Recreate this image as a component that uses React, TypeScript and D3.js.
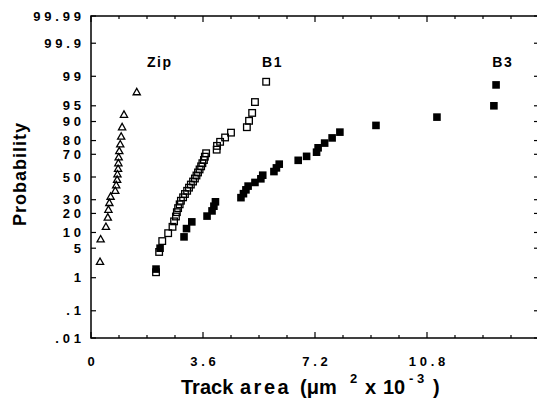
import React from 'react';
import * as d3 from 'd3';

// cumulative probability (%) vs. track area (um^2 x 10^-3)
const zipArea = [0.29, 0.31, 0.48, 0.54, 0.56, 0.59, 0.63, 0.78, 0.81, 0.84, 0.85, 0.87, 0.88, 0.89, 0.91, 0.94, 0.97, 1.0, 1.06, 1.47];
const zipProb = [2.5, 7.5, 12.5, 17.5, 22.5, 27.5, 32.5, 37.5, 42.5, 47.5, 52.5, 57.5, 62.5, 67.5, 72.5, 77.5, 82.5, 87.5, 92.5, 97.5];

const b1Area = [2.09, 2.19, 2.29, 2.48, 2.62, 2.67, 2.73, 2.76, 2.8, 2.85, 2.89, 2.96, 3.02, 3.09, 3.15, 3.21, 3.28, 3.34, 3.39, 3.44, 3.49, 3.54, 3.58, 3.63, 3.66, 3.7, 4.04, 4.05, 4.15, 4.31, 4.5, 5.01, 5.08, 5.18, 5.27, 5.63];
const b1Prob = [1.39, 4.17, 6.94, 9.72, 12.5, 15.28, 18.06, 20.83, 23.61, 26.39, 29.17, 31.94, 34.72, 37.5, 40.28, 43.06, 45.83, 48.61, 51.39, 54.17, 56.94, 59.72, 62.5, 65.28, 68.06, 70.83, 73.61, 76.39, 79.17, 81.94, 84.72, 87.5, 90.28, 93.06, 95.83, 98.61];

const b3Area = [2.09, 2.22, 2.99, 3.07, 3.24, 3.73, 3.89, 3.95, 4.0, 4.82, 4.9, 4.98, 5.05, 5.27, 5.46, 5.52, 5.88, 5.96, 6.05, 6.66, 6.93, 7.25, 7.3, 7.51, 7.75, 8.0, 9.16, 11.12, 12.95, 13.02];
const b3Prob = [1.67, 5, 8.33, 11.67, 15, 18.33, 21.67, 25, 28.33, 31.67, 35, 38.33, 41.67, 45, 48.33, 51.67, 55, 58.33, 61.67, 65, 68.33, 71.67, 75, 78.33, 81.67, 85, 88.33, 91.67, 95, 98.33];

const probTicks = [0.01, 0.1, 1, 5, 10, 20, 30, 50, 70, 80, 90, 95, 99, 99.9, 99.99];
const probLabels = ['.01', '.1', '1', '5', '10', '20', '30', '50', '70', '80', '90', '95', '99', '99.9', '99.99'];
const areaTicks = [0, 3.6, 7.2, 10.8];
const areaLabels = ['0', '3.6', '7.2', '10.8'];

const seriesLabels = [
  { name: 'Zip', x: 1.8 },
  { name: 'B1', x: 5.5 },
  { name: 'B3', x: 12.9 },
];

// inverse normal cdf (Acklam)
const probit = (p: number) => {
  const a = [-39.69683028665376, 220.9460984245205, -275.9285104469687, 138.357751867269, -30.66479806614716, 2.506628277459239];
  const b = [-54.47609879822406, 161.5858368580409, -155.6989798598866, 66.80131188771972, -13.28068155288572];
  const c = [-0.007784894002430293, -0.3223964580411365, -2.400758277161838, -2.549732539343734, 4.374664141464968, 2.938163982698783];
  const d = [0.007784695709041462, 0.3224671290700398, 2.445134137142996, 3.754408661907416];
  const pl = 0.02425;
  if (p < pl) {
    const q = Math.sqrt(-2 * Math.log(p));
    return (((((c[0] * q + c[1]) * q + c[2]) * q + c[3]) * q + c[4]) * q + c[5]) / ((((d[0] * q + d[1]) * q + d[2]) * q + d[3]) * q + 1);
  }
  if (p > 1 - pl) {
    const q = Math.sqrt(-2 * Math.log(1 - p));
    return -(((((c[0] * q + c[1]) * q + c[2]) * q + c[3]) * q + c[4]) * q + c[5]) / ((((d[0] * q + d[1]) * q + d[2]) * q + d[3]) * q + 1);
  }
  const q = p - 0.5;
  const r = q * q;
  return ((((((a[0] * r + a[1]) * r + a[2]) * r + a[3]) * r + a[4]) * r + a[5]) * q) / (((((b[0] * r + b[1]) * r + b[2]) * r + b[3]) * r + b[4]) * r + 1);
};

const W = 537;
const H = 411;
const left = 91, right = 539, top = 16, bottom = 338;

const font = '"Liberation Sans", Arial, Helvetica, sans-serif';

export default function App() {
  const x = d3.scaleLinear().domain([0, 14.4]).range([left, right]);
  const zMax = probit(0.9999);
  const z = d3.scaleLinear().domain([-zMax, zMax]).range([bottom, top]);
  const y = (p: number) => z(probit(p / 100));

  const minor = d3.range(0, 14.41, 0.9);
  const ls = 3.8;

  return (
    <svg width={W} height={H} style={{ position: 'absolute', left: 0, top: 0, background: '#fff' }} fontFamily={font} fontWeight="bold">
      <rect x={0} y={0} width={W} height={H} fill="#fff" />
      {/* frame */}
      <rect x={left} y={top} width={right - left} height={bottom - top} fill="none" stroke="#000" strokeWidth={1.5} />
      {/* x ticks, bottom and top */}
      {minor.map((v, i) => {
        const major = areaTicks.some((t) => Math.abs(t - v) < 1e-6);
        const len = major ? 6 : 3;
        return (
          <g key={'xt' + i} stroke="#000" strokeWidth={1.2}>
            <line x1={x(v)} x2={x(v)} y1={bottom} y2={bottom - len} />
            <line x1={x(v)} x2={x(v)} y1={top} y2={top + len} />
          </g>
        );
      })}
      {areaTicks.map((t, i) => (
        <text key={'xl' + i} x={x(t) + ls / 2} y={366} fontSize={13} letterSpacing={ls} textAnchor="middle">
          {areaLabels[i]}
        </text>
      ))}
      {/* y ticks */}
      {probTicks.map((p, i) => (
        <g key={'yt' + i}>
          <line x1={left} x2={left + 5} y1={y(p)} y2={y(p)} stroke="#000" strokeWidth={1.2} />
          <line x1={right} x2={right - 5} y1={y(p)} y2={y(p)} stroke="#000" strokeWidth={1.2} />
          <text x={81 + ls} y={y(p) + 4.7} fontSize={13} letterSpacing={ls} textAnchor="end">
            {probLabels[i]}
          </text>
        </g>
      ))}
      {/* axis titles */}
      <text transform={`translate(26,${174}) rotate(-90)`} fontSize={18} letterSpacing={1} textAnchor="middle">
        Probability
      </text>
      <g fontSize={20}>
        <text x={181} y={394}>Track</text>
        <text x={240} y={394} letterSpacing={2.5}>area</text>
        <text x={300} y={394}>(μm</text>
        <text x={350} y={383} fontSize={13}>2</text>
        <text x={365} y={394}>x</text>
        <text x={383} y={394}>10</text>
        <text x={409} y={383} fontSize={13}>- 3</text>
        <text x={433} y={394}>)</text>
      </g>
      {/* series labels */}
      {seriesLabels.map((s) => (
        <text key={s.name} x={x(s.x)} y={y(99.45)} fontSize={14} letterSpacing={1.5}>
          {s.name}
        </text>
      ))}
      {/* Zip: open triangles */}
      {zipArea.map((v, i) => {
        const cx = x(v);
        const cy = y(zipProb[i]);
        return (
          <path
            key={'z' + i}
            d={`M${cx},${cy - 3.8}L${cx + 3.6},${cy + 2.6}L${cx - 3.6},${cy + 2.6}Z`}
            fill="none"
            stroke="#000"
            strokeWidth={1.3}
          />
        );
      })}
      {/* B1: open squares */}
      {b1Area.map((v, i) => (
        <rect key={'b1' + i} x={x(v) - 3.3} y={y(b1Prob[i]) - 3.3} width={6.6} height={6.6} fill="none" stroke="#000" strokeWidth={1.3} />
      ))}
      {/* B3: filled squares */}
      {b3Area.map((v, i) => (
        <rect key={'b3' + i} x={x(v) - 3.8} y={y(b3Prob[i]) - 3.8} width={7.6} height={7.6} fill="#000" />
      ))}
    </svg>
  );
}
